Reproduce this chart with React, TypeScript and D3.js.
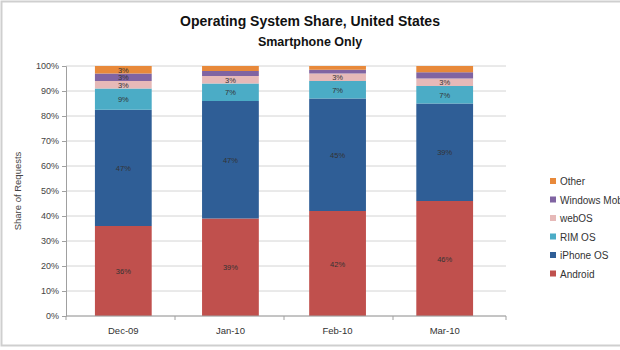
import React, { useRef, useEffect } from 'react';
import * as d3 from 'd3';

const months = ['Dec-09', 'Jan-10', 'Feb-10', 'Mar-10'];
const seriesNames = ['Android', 'iPhone OS', 'RIM OS', 'webOS', 'Windows Mobile', 'Other'];
const android = [36, 39, 42, 46];
const iphone = [46.5, 47, 45, 39];
const rim = [8.5, 7, 7, 7];
const webos = [3, 3, 3, 3];
const windowsMobile = [3, 2, 1.5, 2.5];
const other = [3, 2, 1.5, 2.5];
const yTicks = [0, 10, 20, 30, 40, 50, 60, 70, 80, 90, 100];

const colors = ['#C0504D', '#2F5E96', '#4BACC6', '#E6B9B8', '#8064A2', '#E8893A'];

const App = () => {
  const ref = useRef<SVGSVGElement>(null);

  useEffect(() => {
    const svg = d3.select(ref.current);
    svg.selectAll('*').remove();

    const width = 620;
    const height = 350;
    const margin = { top: 66, left: 66, right: 118, bottom: 34 };
    const font = 'Liberation Sans, Arial, sans-serif';

    const rows = months.map((m, i) => ({
      month: m,
      Android: android[i],
      'iPhone OS': iphone[i],
      'RIM OS': rim[i],
      webOS: webos[i],
      'Windows Mobile': windowsMobile[i],
      Other: other[i],
    }));

    const layers = d3.stack<any>().keys(seriesNames)(rows);

    const x = d3.scaleBand()
      .domain(months)
      .range([margin.left, 502])
      .paddingInner(0.47)
      .paddingOuter(0.27);

    const y = d3.scaleLinear()
      .domain([0, 100])
      .range([height - margin.bottom, margin.top]);

    // outer frame
    svg.append('rect')
      .attr('x', 1.5).attr('y', 1.5)
      .attr('width', width + 10).attr('height', height - 6)
      .attr('fill', 'white')
      .attr('stroke', '#cfcfcf')
      .attr('stroke-width', 2);

    // gridlines
    svg.append('g')
      .selectAll('line')
      .data(yTicks)
      .join('line')
      .attr('x1', margin.left)
      .attr('x2', 506)
      .attr('y1', d => y(d))
      .attr('y2', d => y(d))
      .attr('stroke', '#d4d4d4');

    // Y axis
    const yAxis = svg.append('g')
      .attr('transform', `translate(${margin.left},0)`)
      .call(d3.axisLeft(y).tickValues(yTicks).tickFormat(d => `${d}%`).tickSize(4));
    yAxis.selectAll('path,line').attr('stroke', '#a0a0a0');
    yAxis.selectAll('text')
      .style('font-family', font)
      .style('font-size', '9px')
      .attr('fill', '#444');

    svg.append('text')
      .attr('transform', `translate(21,${y(50)}) rotate(-90)`)
      .attr('text-anchor', 'middle')
      .style('font-family', font)
      .style('font-size', '9.5px')
      .attr('fill', '#444')
      .text('Share of Requests');

    // Bars
    svg.append('g')
      .selectAll('g')
      .data(layers)
      .join('g')
      .attr('fill', (d, i) => colors[i])
      .selectAll('rect')
      .data(d => d)
      .join('rect')
      .attr('x', d => x(d.data.month)!)
      .attr('y', d => y(d[1]))
      .attr('height', d => y(d[0]) - y(d[1]))
      .attr('width', x.bandwidth());

    // value labels
    svg.append('g')
      .selectAll('g')
      .data(layers)
      .join('g')
      .selectAll('text')
      .data(d => d.filter(p => p[1] - p[0] >= 2.75))
      .join('text')
      .attr('x', d => x(d.data.month)! + x.bandwidth() / 2)
      .attr('y', d => y((d[0] + d[1]) / 2) + 3)
      .attr('text-anchor', 'middle')
      .style('font-family', font)
      .style('font-size', '7.5px')
      .attr('fill', '#333')
      .text(d => `${Math.round(d[1] - d[0])}%`);

    // X axis
    const xAxis = svg.append('g')
      .attr('transform', `translate(0,${y(0)})`);
    xAxis.append('line')
      .attr('x1', margin.left).attr('x2', 506)
      .attr('stroke', '#a0a0a0');
    const bounds = months.map((m, i) => margin.left + i * (436 / 4)).concat([506]);
    xAxis.selectAll('line.tick')
      .data(bounds)
      .join('line')
      .attr('class', 'tick')
      .attr('x1', d => d).attr('x2', d => d)
      .attr('y1', 0).attr('y2', 4)
      .attr('stroke', '#a0a0a0');
    xAxis.selectAll('text')
      .data(months)
      .join('text')
      .attr('x', d => x(d)! + x.bandwidth() / 2)
      .attr('y', 18)
      .attr('text-anchor', 'middle')
      .style('font-family', font)
      .style('font-size', '9.5px')
      .attr('fill', '#333')
      .text(d => d);

    // Legend
    const legend = svg.append('g')
      .attr('transform', 'translate(550,182)');
    const legendItems = seriesNames.slice().reverse();
    legend.selectAll('rect')
      .data(legendItems)
      .join('rect')
      .attr('x', 0)
      .attr('y', (d, i) => i * 18.5 - 4)
      .attr('width', 6).attr('height', 6)
      .attr('fill', d => colors[seriesNames.indexOf(d)]);
    legend.selectAll('text')
      .data(legendItems)
      .join('text')
      .attr('x', 10)
      .attr('y', (d, i) => i * 18.5 + 3)
      .style('font-family', font)
      .style('font-size', '10px')
      .attr('fill', '#333')
      .text(d => d);

    // Titles
    svg.append('text')
      .attr('x', 310).attr('y', 26)
      .attr('text-anchor', 'middle')
      .style('font-family', font)
      .style('font-size', '14px')
      .style('font-weight', 'bold')
      .attr('fill', '#111')
      .text('Operating System Share, United States');
    svg.append('text')
      .attr('x', 310).attr('y', 46)
      .attr('text-anchor', 'middle')
      .style('font-family', font)
      .style('font-size', '12.5px')
      .style('font-weight', 'bold')
      .attr('fill', '#111')
      .text('Smartphone Only');
  }, []);

  return (
    <svg
      ref={ref}
      width={620}
      height={350}
      style={{ position: 'absolute', left: 0, top: 0, background: 'white' }}
    />
  );
};

export default App;
